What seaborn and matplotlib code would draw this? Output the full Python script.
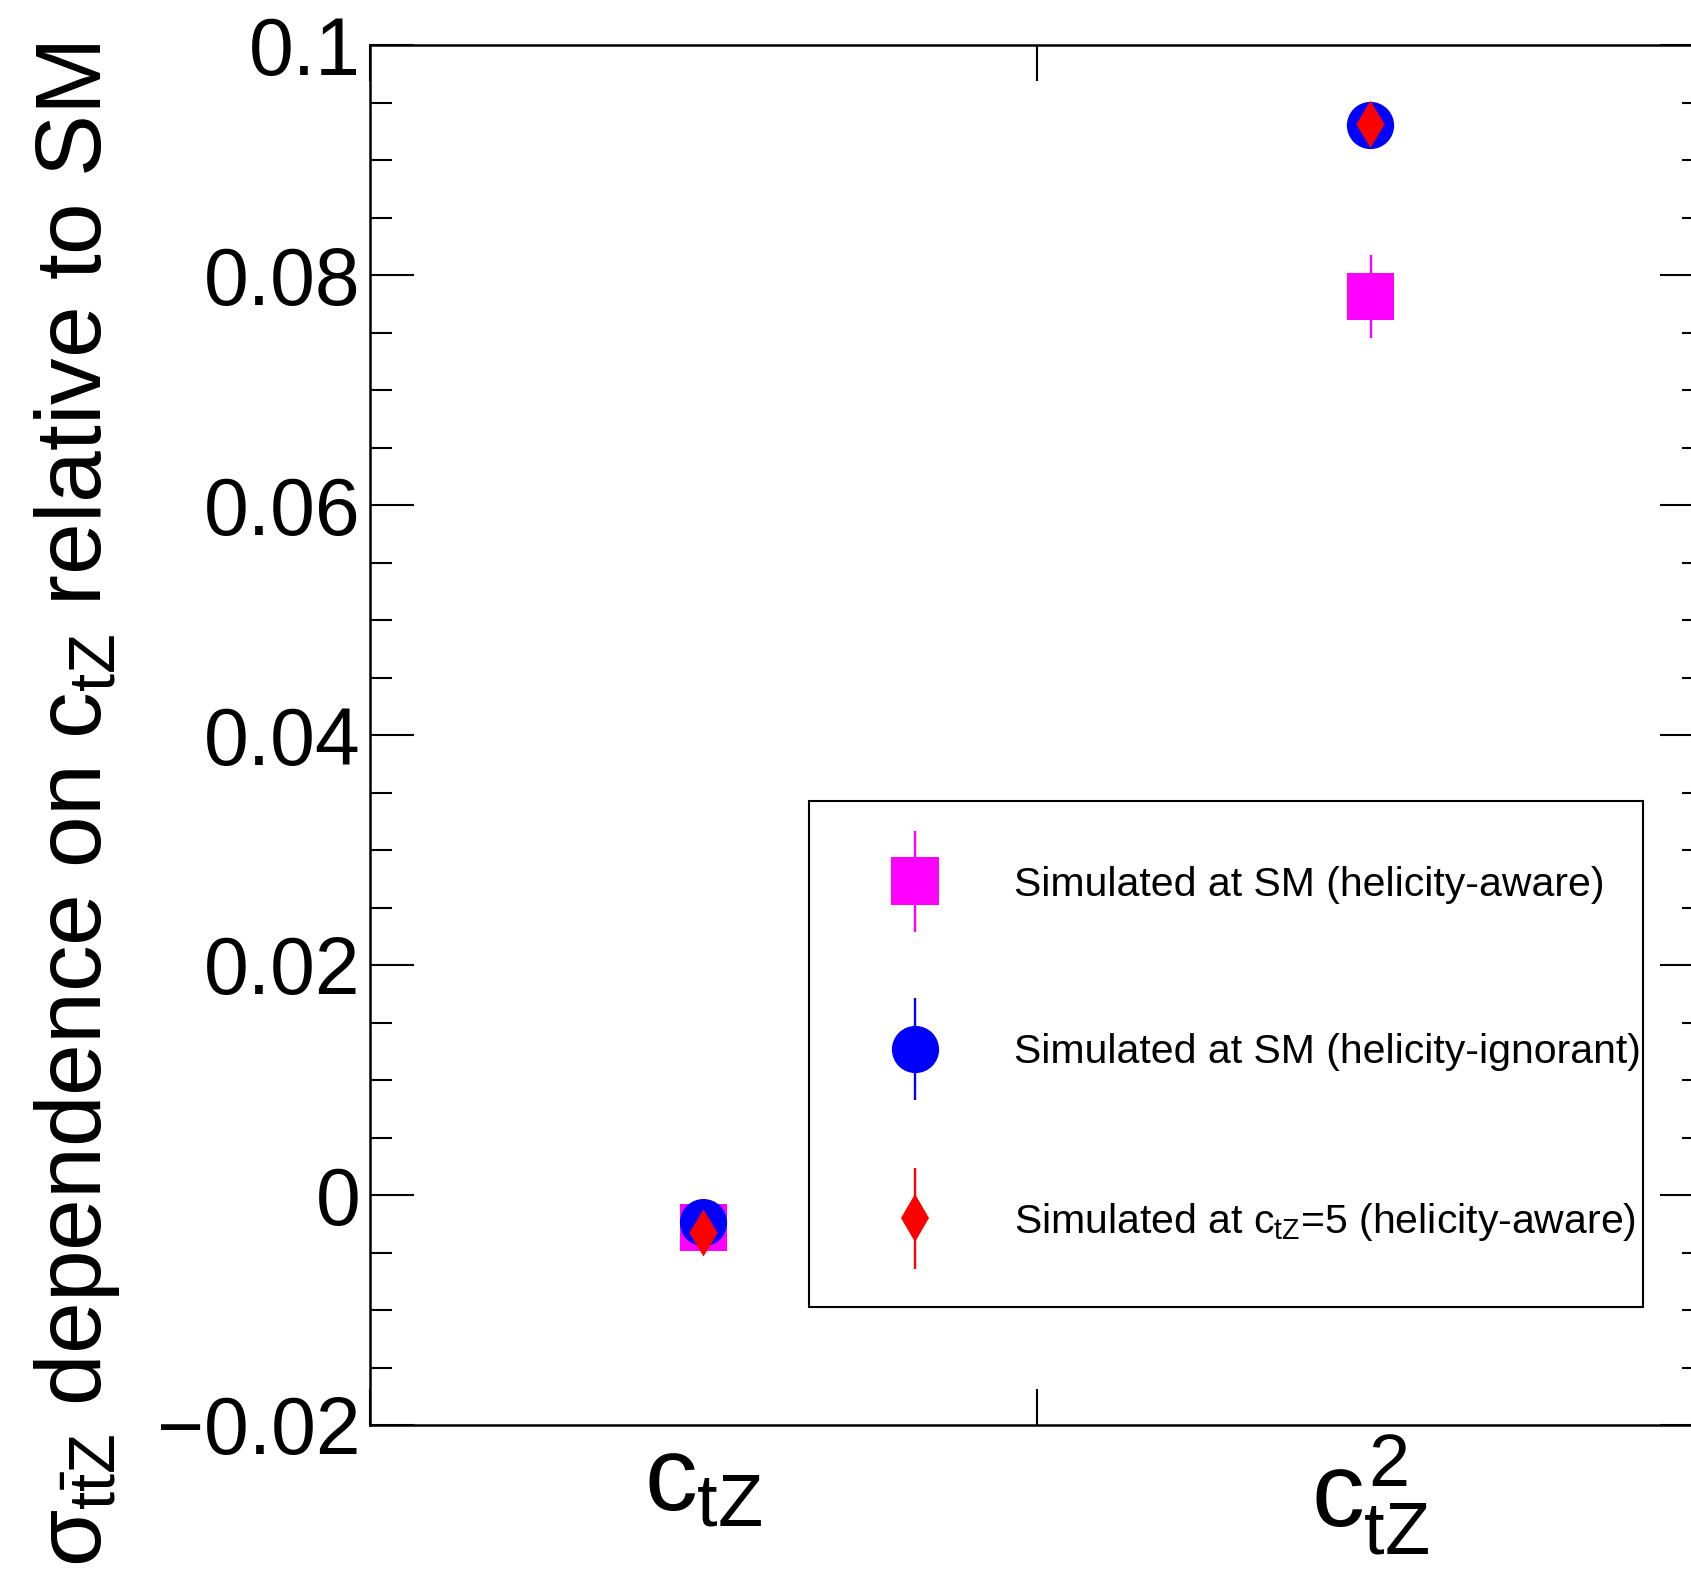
import matplotlib
matplotlib.use("Agg")
import matplotlib.pyplot as plt
import seaborn as sns
import pandas as pd
from matplotlib.lines import Line2D
from matplotlib.collections import LineCollection
from matplotlib.container import ErrorbarContainer
from matplotlib.legend_handler import HandlerErrorbar
from matplotlib.ticker import FixedLocator, FixedFormatter

# ---------------- data ----------------
categories = [r"$c_{tZ}$", r"$c_{tZ}^{2}$"]
series_names = [
    "Simulated at SM (helicity-aware)",
    "Simulated at SM (helicity-ignorant)",
    r"Simulated at $c_{tZ}$=5 (helicity-aware)",
]
aware_vals = [-0.0028, 0.0781]
aware_errs = [0.0010, 0.0036]
ignorant_vals = [-0.0024, 0.0930]
ignorant_errs = [0.0010, 0.0015]
ctz5_vals = [-0.0033, 0.0931]
ctz5_errs = [0.0012, 0.0015]
y_ticks = [-0.02, 0.0, 0.02, 0.04, 0.06, 0.08, 0.1]
y_tick_labels = ["\u22120.02", "0", "0.02", "0.04", "0.06", "0.08", "0.1"]
y_label = r"$\sigma_{t\bar{t}Z}$ dependence on $c_{tZ}$ relative to SM"

# ---------------- style ----------------
colors = ["#FF00FF", "#0000FF", "#FF0000"]
markers = ["s", "o", "d"]
msizes = [34, 34, 24]

sns.set_style("ticks")
plt.rcParams["font.family"] = ["Liberation Sans", "DejaVu Sans"]
plt.rcParams["mathtext.fontset"] = "custom"
plt.rcParams["mathtext.rm"] = "Liberation Sans"
plt.rcParams["mathtext.it"] = "Liberation Sans"
plt.rcParams["mathtext.bf"] = "Liberation Sans:bold"
plt.rcParams["axes.unicode_minus"] = True
for key in ["text.color", "axes.labelcolor", "xtick.color", "ytick.color", "axes.edgecolor"]:
    plt.rcParams[key] = "black"

vals = [aware_vals, ignorant_vals, ctz5_vals]
errs = [aware_errs, ignorant_errs, ctz5_errs]
rows = []
for s, name in enumerate(series_names):
    for i, cat in enumerate(categories):
        rows.append({"x": i + 0.5, "y": vals[s][i], "err": errs[s][i], "series": name})
df = pd.DataFrame(rows)

fig = plt.figure(figsize=(16.91, 15.73), dpi=100)
ax = fig.add_axes([370 / 1691, 1 - 1425 / 1573, 1334 / 1691, 1380 / 1573])

# error bars
for s, name in enumerate(series_names):
    sub = df[df["series"] == name]
    ax.errorbar(sub["x"], sub["y"], yerr=sub["err"], fmt="none",
                ecolor=colors[s], elinewidth=1.7, capsize=0, zorder=2)

sns.scatterplot(
    data=df, x="x", y="y", hue="series", style="series", size="series",
    palette=dict(zip(series_names, colors)),
    markers=dict(zip(series_names, markers)),
    sizes={n: m ** 2 for n, m in zip(series_names, msizes)},
    linewidth=0, legend=False, ax=ax, zorder=3,
)

ax.set_xlim(0, len(categories))
ax.set_ylim(-0.02, 0.1)
ax.set_xlabel("")
ax.set_ylabel("")

# y ticks
ax.yaxis.set_major_locator(FixedLocator(y_ticks))
ax.yaxis.set_major_formatter(FixedFormatter(y_tick_labels))
ax.yaxis.set_minor_locator(FixedLocator([v / 1000 for v in range(-20, 101, 5)]))
ax.tick_params(axis="y", which="major", direction="in", length=32, width=1.5,
               right=True, left=True, labelsize=58, pad=7, colors="black")
ax.tick_params(axis="y", which="minor", direction="in", length=16, width=1.5,
               right=True, left=True)

# x ticks: boundaries as major, labels at bin centres as minor
ax.xaxis.set_major_locator(FixedLocator(list(range(len(categories) + 1))))
ax.xaxis.set_major_formatter(FixedFormatter([""] * (len(categories) + 1)))
ax.xaxis.set_minor_locator(FixedLocator([i + 0.5 for i in range(len(categories))]))
ax.xaxis.set_minor_formatter(FixedFormatter(categories))
ax.tick_params(axis="x", which="major", direction="in", length=26, width=1.5,
               top=True, bottom=True)
ax.tick_params(axis="x", which="minor", length=0, labelsize=76, pad=6)

for sp in ax.spines.values():
    sp.set_linewidth(1.8)
    sp.set_color("black")

fig.text(32 / 1691, 1 - 43 / 1573, y_label, rotation=90, ha="left", va="top",
         fontsize=67)

# legend
handles = []
for s, name in enumerate(series_names):
    line = Line2D([], [], marker=markers[s], markersize=msizes[s], color=colors[s],
                  markeredgewidth=0, linestyle="none")
    bars = LineCollection([], colors=colors[s], linewidths=1.7)
    handles.append(ErrorbarContainer((line, (), (bars,)), has_xerr=False,
                                     has_yerr=True, label=name))

x0 = (809 - 370) / 1334
y0 = (1425 - 1307) / 1380
w = (1643 - 809) / 1334
h = (1307 - 802) / 1380
leg = ax.legend(handles=handles, labels=series_names, loc="lower left",
                bbox_to_anchor=(x0, y0, w, h), mode="expand",
                fontsize=29.5, frameon=True, fancybox=False, shadow=False,
                borderpad=1.57, handlelength=2.02, handleheight=0.7,
                handletextpad=1.42, labelspacing=3.16, borderaxespad=0,
                handler_map={ErrorbarContainer: HandlerErrorbar(yerr_size=1.24)})
leg.get_frame().set_edgecolor("black")
leg.get_frame().set_linewidth(1.5)
leg.get_frame().set_alpha(1)
leg.set_zorder(10)

fig.savefig("out.png", dpi=100, facecolor="white")
